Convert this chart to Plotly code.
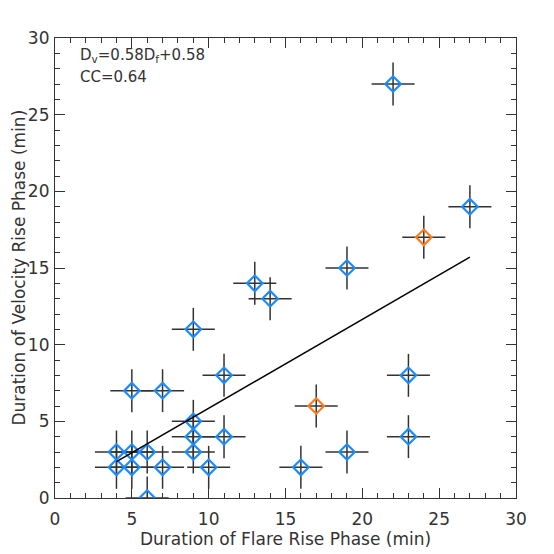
import plotly.graph_objects as go

# Blue points: flare rise duration (x) vs velocity rise duration (y)
blue_x = [4, 4, 5, 5, 5, 6, 6, 7, 7, 9, 9, 9, 9, 10, 11, 11, 13, 14, 16, 19, 19, 22, 23, 23, 27]
blue_y = [3, 2, 7, 3, 2, 3, 0, 7, 2, 11, 5, 4, 3, 2, 8, 4, 14, 13, 2, 15, 3, 27, 8, 4, 19]
# Orange points
orange_x = [17, 24]
orange_y = [6, 17]
# Uncertainties (min)
x_err = 1.4
y_err = 1.4
# Linear fit as drawn
fit_slope = 0.58
fit_intercept = 0.05
fit_x = [4, 27]

blue_c = "#1A8CFF"
orange_c = "#FF7A1A"
err_c = "#333333"
font_fam = "DejaVu Sans"
txt_c = "#333333"

fig = go.Figure()

def add_pts(xs, ys, color):
    fig.add_trace(go.Scatter(
        x=xs, y=ys, mode="markers",
        marker=dict(symbol="diamond-open", size=12, color=color, line=dict(width=2.2, color=color)),
        error_x=dict(type="constant", value=x_err, color=err_c, thickness=1.5, width=0),
        error_y=dict(type="constant", value=y_err, color=err_c, thickness=1.5, width=0),
        showlegend=False, hoverinfo="skip",
    ))

add_pts(blue_x, blue_y, blue_c)
add_pts(orange_x, orange_y, orange_c)

fig.add_trace(go.Scatter(
    x=fit_x, y=[fit_slope * v + fit_intercept for v in fit_x],
    mode="lines", line=dict(color="black", width=1.5),
    showlegend=False, hoverinfo="skip",
))

axis_common = dict(
    range=[0, 30], dtick=5, tick0=0, automargin=False,
    ticks="inside", ticklen=10, tickwidth=1, tickcolor=txt_c,
    minor=dict(ticks="inside", dtick=1, ticklen=5, tickcolor=txt_c, tickwidth=1),
    showline=True, linecolor=txt_c, linewidth=1.2, mirror="ticks",
    showgrid=False, zeroline=False,
    tickfont=dict(family=font_fam, size=17, color=txt_c),
)

fig.update_layout(
    width=554, height=554,
    margin=dict(l=47, r=46, t=30, b=64),
    plot_bgcolor="white", paper_bgcolor="white",
    xaxis=dict(**axis_common, ticklabelstandoff=5),
    yaxis=dict(**axis_common, ticklabelstandoff=1),
    annotations=[
        dict(text="Duration of Flare Rise Phase (min)", xref="paper", yref="paper",
             x=0.5, y=-0.089, xanchor="center", yanchor="middle", showarrow=False,
             font=dict(family=font_fam, size=17, color=txt_c)),
        dict(text="Duration of Velocity Rise Phase (min)", xref="paper", yref="paper",
             x=-0.079, y=0.5, xanchor="center", yanchor="middle", showarrow=False,
             textangle=-90, font=dict(family=font_fam, size=17, color=txt_c)),
        dict(text="D<sub>v</sub>=0.58D<sub>f</sub>+0.58", xref="paper", yref="paper",
             x=0.05, y=0.988, xanchor="left", yanchor="top", showarrow=False,
             font=dict(family=font_fam, size=15, color=txt_c)),
        dict(text="CC=0.64", xref="paper", yref="paper",
             x=0.05, y=0.94, xanchor="left", yanchor="top", showarrow=False,
             font=dict(family=font_fam, size=15, color=txt_c)),
    ],
)

fig.write_html("out.html")
